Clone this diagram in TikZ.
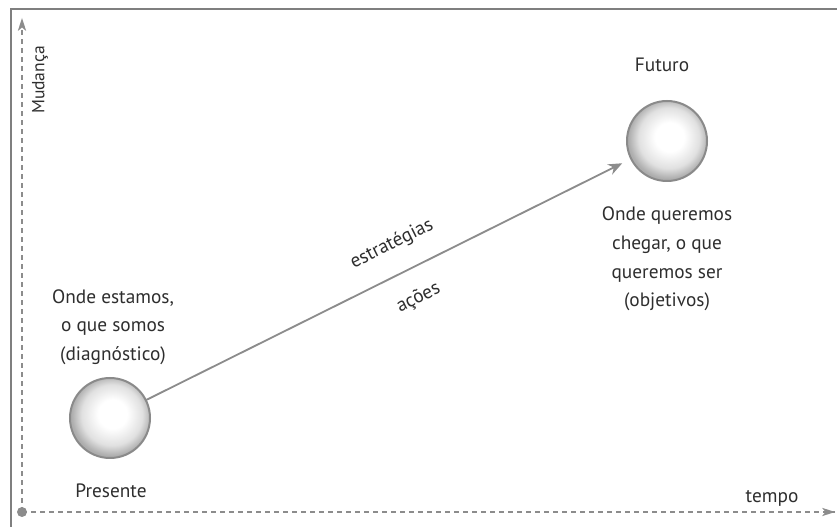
\documentclass[tikz,border=0pt]{standalone}
\usepackage{fontspec}
\setsansfont{PT Sans}
\usetikzlibrary{arrows.meta,calc}

\definecolor{ink}{HTML}{2E2E2E}
\definecolor{axisgray}{HTML}{8C8C8C}
\definecolor{framegray}{HTML}{7F7F7F}
\definecolor{globeedge}{HTML}{8A8A8A}

\pgfdeclareradialshading{globeshade}{\pgfpoint{2bp}{3bp}}{%
  color(0bp)=(white); color(9bp)=(white); color(19bp)=(black!12);
  color(25bp)=(black!32); color(50bp)=(black!32)}

\tikzset{
  txt/.style={text=ink,font=\sffamily\fontsize{16.5}{24.5}\selectfont,inner sep=1pt},
  globe/.style={circle,minimum size=24mm,inner sep=0pt,outer sep=0pt,draw=globeedge,line width=0.6mm,shading=globeshade},
  axisline/.style={axisgray,line width=0.55mm,dash pattern=on 1.5mm off 1.2mm},
  seta/.style={axisgray,line width=0.55mm,-{Stealth[length=4.2mm,width=3.4mm]}}
}

\begin{document}
\begin{tikzpicture}[x=0.3mm,y=0.3mm]
\useasboundingbox (0,0) rectangle (837,527);

\draw[framegray,line width=0.5mm] (11,0) -- (11,518) -- (837,518);

\coordinate (O) at (22,15);
\coordinate (ytop) at (22,509);
\coordinate (xend) at (835,15);
\draw[axisline] (O) -- (ytop);
\draw[axisline] (O) -- (xend);
\fill[axisgray] (ytop) -- ++(-4.2,-13) -- ++(4.2,3.5) -- ++(4.2,-3.5) -- cycle;
\fill[axisgray] (xend) -- ++(-13,4.2) -- ++(3.5,-4.2) -- ++(-3.5,-4.2) -- cycle;
\fill[axisgray] (O) circle (5);

\node[txt,rotate=90,font=\sffamily\fontsize{15}{18}\selectfont] (mudanca) at (40,447) {Mudança};
\node[txt] (tempo) at (772,29) {tempo};

\node[globe] (pres) at (110,109) {};
\node[globe] (fut) at (667,386) {};

\node[txt] (presente) at (111,36) {Presente};
\node[txt] (futuro) at (662,462) {Futuro};
\node[txt,align=center] (hoje) at (113,200) {Onde estamos,\\o que somos\\(diagnóstico)};
\node[txt,align=center] (meta) at (667,268) {Onde queremos\\chegar, o que\\queremos ser\\(objetivos)};

\draw[seta,shorten >=3mm] (pres) -- (fut);
\coordinate (meio) at ($(pres)!.53!(fut)$);
\node[txt,rotate=26.4] (estrategias) at ($(meio)!9mm!90:(fut)$) {estratégias};
\node[txt,rotate=26.4] (acoes) at ($(meio)!9mm!-90:(fut)$) {ações};
\end{tikzpicture}
\end{document}
